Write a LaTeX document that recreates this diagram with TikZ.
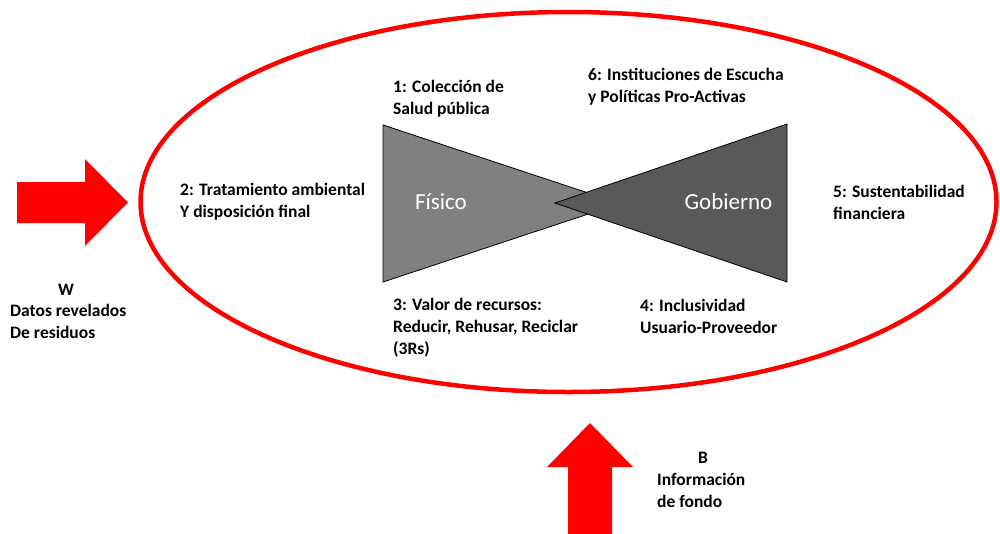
\documentclass[tikz,border=0pt]{standalone}
\usepackage{fontspec}
\setmainfont{Carlito}
\definecolor{arrred}{HTML}{FF0000}
\definecolor{lightgray}{HTML}{808080}
\definecolor{darkgray}{HTML}{595959}
\tikzset{
  lbl/.style={anchor=west, align=left, inner sep=0pt, font=\fontsize{17.5}{22}\selectfont\bfseries},
  ctr/.style={anchor=center, inner sep=0pt, font=\fontsize{17.5}{22}\selectfont\bfseries},
  tri/.style={draw=black, line width=0.8pt},
  bigarrow/.style={fill=arrred, draw=none},
  inner/.style={text=white, inner sep=0pt, font=\fontsize{23}{26}\selectfont}
}
\begin{document}
\begin{tikzpicture}[x=1pt, y=-1pt]
\useasboundingbox (0,0) rectangle (1000,533);
% ellipse
\draw[arrred, line width=4.5pt] (568.5,202) ellipse [x radius=428, y radius=190];
% bow tie
\draw[tri, fill=lightgray] (383,125) -- (383,282) -- (620,203.5) -- cycle;
\draw[tri, fill=darkgray] (787,124) -- (787,282) -- (555,203) -- cycle;
\node[inner] (fisico) at (441,202) {Físico};
\node[inner] (gob) at (728.5,202) {Gobierno};
% arrows
\fill[bigarrow] (17,182) -- (85,182) -- (85,159) -- (128,202.5) -- (85,246) -- (85,223) -- (17,223) -- cycle;
\fill[bigarrow] (568,540) -- (568,467) -- (547,467) -- (590,423) -- (633,467) -- (612,467) -- (612,540) -- cycle;
% labels
\node[lbl] (l1) at (393,99) {1: Colección de\\Salud pública};
\node[lbl] (l6) at (588,87) {6: Instituciones de Escucha\\y Políticas Pro-Activas};
\node[lbl] (l2) at (180,202) {2: Tratamiento ambiental\\Y disposición final};
\node[lbl] (l5) at (833,202) {5: Sustentabilidad\\financiera};
\node[lbl] (l3) at (393,327.5) {3: Valor de recursos:\\Reducir, Rehusar, Reciclar\\(3Rs)};
\node[lbl] (l4) at (640,316) {4: Inclusividad\\Usuario-Proveedor};
\node[ctr] (w) at (66,290) {W};
\node[lbl] (wt) at (10,321.5) {Datos revelados\\De residuos};
\node[ctr] (b) at (703,458) {B};
\node[lbl] (bt) at (657,490.5) {Información\\de fondo};
\end{tikzpicture}
\end{document}
